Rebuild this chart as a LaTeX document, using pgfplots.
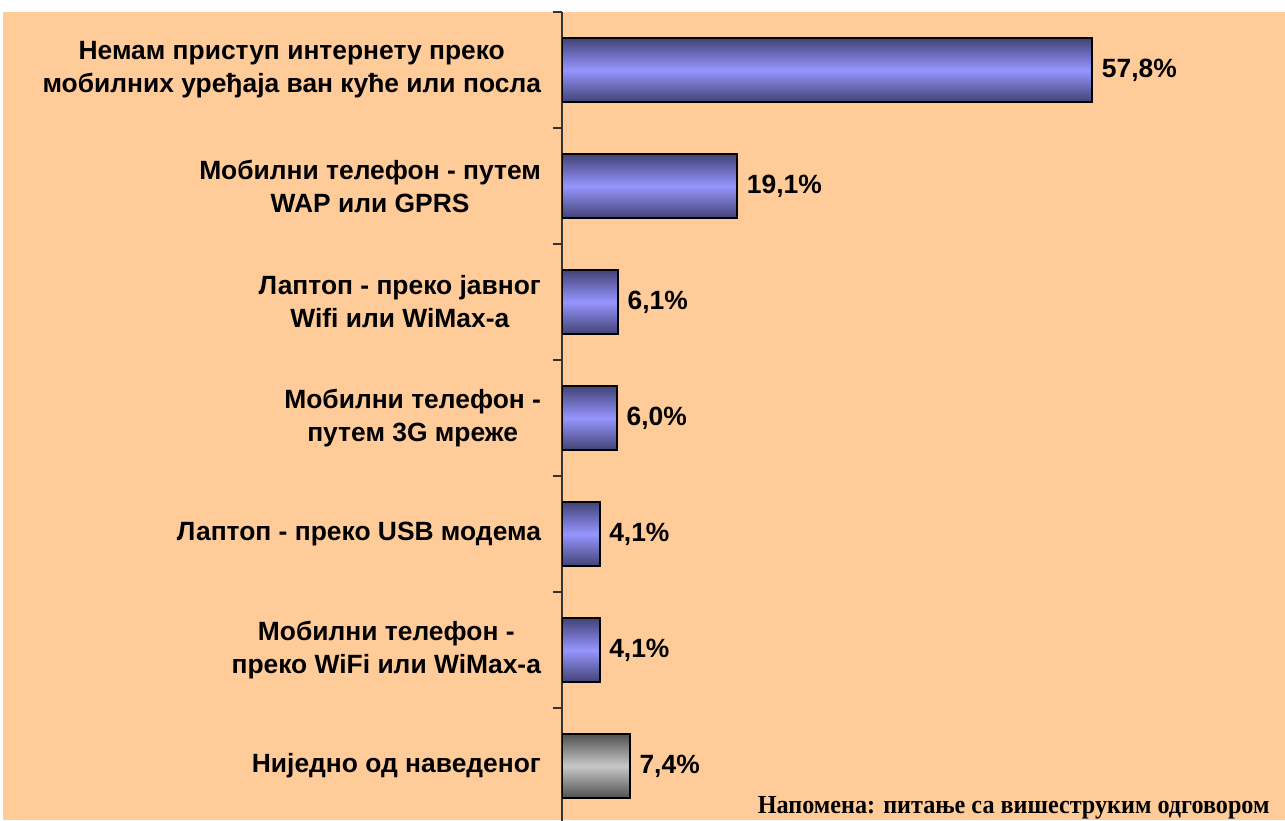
\documentclass[border=0pt]{standalone}
\usepackage{fontspec}
\setmainfont{Liberation Sans}
\newfontfamily\notefont{Liberation Serif}
\usepackage{pgfplots}
\pgfplotsset{compat=1.18}
\definecolor{peach}{HTML}{FFCC99}
\definecolor{bardark}{RGB}{66,66,118}
\definecolor{barlight}{RGB}{150,150,255}
\definecolor{graydark}{RGB}{80,80,80}
\definecolor{graylight}{RGB}{200,200,200}
\pgfplotsset{
  bluebar/.style={draw=black,line width=1pt,top color=bardark,bottom color=bardark,middle color=barlight},
  graybar/.style={draw=black,line width=1pt,top color=graydark,bottom color=graydark,middle color=graylight},
}
\begin{document}
\begin{tikzpicture}
\fill[white] (0,0) rectangle (642.5pt,410pt);
\fill[peach] (1.5pt,0) rectangle (642.5pt,404pt);
\begin{axis}[
  at={(281pt,-2pt)},anchor=south west,
  scale only axis,width=361.5pt,height=406pt,
  xmin=0,xmax=78.8,ymin=-0.5,ymax=6.5,y dir=reverse,
  axis x line=none,axis y line*=left,
  y axis line style={line width=0.6pt,black!80},
  ytick={0,...,6},
  yticklabels={{Немам приступ интернету преко\\мобилних уређаја ван куће или посла},
    {Мобилни телефон - путем\\WAP или GPRS},
    {Лаптоп - преко јавног\\Wifi или WiMax-а},
    {Мобилни телефон -\\путем 3G мреже},
    {Лаптоп - преко USB модема},
    {Мобилни телефон -\\преко WiFi или WiMax-а},
    {Ниједно од наведеног}},
  yticklabel style={align=center,font=\fontsize{13.2}{16.5}\selectfont\bfseries,xshift=-7pt},
  major tick length=0pt,
  minor ytick={-0.5,0.5,...,6.5},minor tick length=4.5pt,tick align=outside,
  minor tick style={line width=0.6pt,black!80},
  xbar,bar width=32pt,bar shift=0pt,
  point meta=explicit symbolic,
  nodes near coords={\pgfplotspointmeta},
  nodes near coords style={font=\fontsize{13.2}{15}\selectfont\bfseries,anchor=west,xshift=1pt},
]
\addplot[bluebar] coordinates {(57.8,0) [57,8\%]};
\addplot[bluebar] coordinates {(19.1,1) [19,1\%]};
\addplot[bluebar] coordinates {(6.1,2) [6,1\%]};
\addplot[bluebar] coordinates {(6.0,3) [6,0\%]};
\addplot[bluebar] coordinates {(4.1,4) [4,1\%]};
\addplot[bluebar] coordinates {(4.1,5) [4,1\%]};
\addplot[graybar] coordinates {(7.4,6) [7,4\%]};
\end{axis}
\node[anchor=base east,inner sep=0pt] at (635pt,3.5pt) {\scalebox{0.93}[1]{\notefont\fontsize{13}{15}\selectfont\bfseries Напомена: питање са вишеструким одговором}};
\pgfresetboundingbox
\useasboundingbox (0,0) rectangle (642.5pt,410pt);
\end{tikzpicture}
\end{document}
